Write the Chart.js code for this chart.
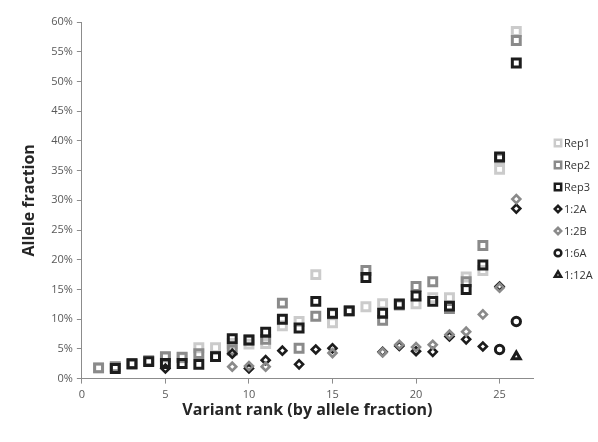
<!DOCTYPE html>
<html>
<head>
<meta charset="utf-8">
<script src="https://cdn.jsdelivr.net/npm/chart.js@4.4.0/dist/chart.umd.min.js"></script>
<style>
  html, body { margin: 0; padding: 0; background: #fff; }
</style>
</head>
<body>
<canvas id="chart" width="598" height="442"></canvas>
<script>
// Variant rank (x) and allele fraction in % (y), null = no point
const rank = [1, 2, 3, 4, 5, 6, 7, 8, 9, 10, 11, 12, 13, 14, 15, 16, 17, 18, 19, 20, 21, 22, 23, 24, 25, 26];
const rep1 = [1.8, 1.9, 2.4, 2.9, 3.6, 3.5, 5.2, 5.2, 5.9, 5.8, 5.9, 8.9, 9.6, 17.5, 9.4, 11.4, 12.1, 12.6, 12.3, 12.6, 13.6, 13.6, 17.1, 18.2, 35.2, 58.4];
const rep2 = [1.8, 2.0, 2.5, 3.0, 3.7, 3.6, 4.2, 3.7, 4.8, 6.5, 6.6, 12.7, 5.1, 10.5, 10.9, 11.4, 18.2, 9.8, 12.6, 15.5, 16.3, 11.8, 16.3, 22.4, 37.1, 56.9];
const rep3 = [null, 1.7, 2.5, 2.85, 2.55, 2.55, 2.4, 3.7, 6.7, 6.5, 7.8, 10.0, 8.5, 13.0, 11.0, 11.4, 17.0, 11.0, 12.5, 13.9, 13.0, 12.2, 15.0, 19.1, 37.3, 53.1];
const dil12A = [null, null, null, null, 1.7, null, null, null, 4.2, 1.7, 3.1, 4.7, 2.4, 4.9, 5.1, null, null, 4.5, 5.5, 4.6, 4.5, 7.1, 6.6, 5.4, 15.5, 28.6];
const dil12B = [null, null, null, null, null, null, null, null, 2.0, 2.1, 2.0, null, null, null, 4.3, null, null, 4.4, 5.7, 5.3, 5.7, 7.4, 7.9, 10.8, 15.3, 30.2];
const dil16A = [null, null, null, null, null, null, null, null, null, null, null, null, null, null, null, null, null, null, null, null, null, null, null, null, 4.9, 9.6];
const dil112A = [null, null, null, null, null, null, null, null, null, null, null, null, null, null, null, null, null, null, null, null, null, null, null, null, null, 3.7];

const xTicks = [0, 5, 10, 15, 20, 25];

function puntos(valores) {
  return rank.map((r, i) => ({ x: r, y: valores[i] })).filter(p => p.y !== null);
}

function serie(label, valores, color, estilo, radio, borde, orden) {
  return {
    label: label,
    data: puntos(valores),
    pointStyle: estilo,
    pointRadius: radio,
    pointHoverRadius: radio,
    pointBorderWidth: borde,
    borderWidth: borde,
    borderColor: color,
    backgroundColor: 'rgba(0,0,0,0)',
    pointBackgroundColor: 'rgba(0,0,0,0)',
    order: orden
  };
}

// order: Rep1 drawn first, 1:12A last (on top)
const datasets = [
  serie('Rep1', rep1, '#cbcbcb', 'rect', 5.6, 3, 7),
  serie('Rep2', rep2, '#8a8a8a', 'rect', 5.6, 3, 6),
  serie('Rep3', rep3, '#1c1c1c', 'rect', 5.6, 3, 5),
  serie('1:2A', dil12A, '#1c1c1c', 'rectRot', 4, 2.6, 4),
  serie('1:2B', dil12B, '#8a8a8a', 'rectRot', 4, 2.6, 3),
  serie('1:6A', dil16A, '#1c1c1c', 'circle', 4.2, 3, 2),
  serie('1:12A', dil112A, '#1c1c1c', 'triangle', 4.5, 3, 1)
];

const fuente = "'Open Sans', 'Liberation Sans', sans-serif";

// Leyenda a la derecha, como en Excel
const leyenda = {
  id: 'leyenda',
  afterDraw(chart) {
    const ctx = chart.ctx;
    const x = 558;
    const top = 143;
    const paso = 22;
    ctx.save();
    chart.data.datasets.forEach((ds, i) => {
      const y = top + i * paso;
      ctx.strokeStyle = ds.borderColor;
      ctx.fillStyle = 'rgba(0,0,0,0)';
      ctx.lineWidth = 2.5;
      Chart.helpers.drawPoint(ctx, {
        pointStyle: ds.pointStyle,
        radius: ds.pointRadius * 0.8,
        borderWidth: 2.5,
        rotation: 0
      }, x, y);
      ctx.fillStyle = '#333333';
      ctx.font = '11px ' + fuente;
      ctx.textAlign = 'left';
      ctx.textBaseline = 'middle';
      ctx.fillText(ds.label, x + 6, y + 1);
    });
    ctx.restore();
  }
};

new Chart(document.getElementById('chart').getContext('2d'), {
  type: 'scatter',
  data: { datasets: datasets },
  plugins: [leyenda],
  options: {
    responsive: false,
    animation: false,
    layout: { padding: { top: 22, right: 65, bottom: 22, left: 20 } },
    plugins: {
      tooltip: { enabled: false },
      legend: { display: false }
    },
    scales: {
      x: {
        type: 'linear',
        min: 0,
        max: 27,
        afterBuildTicks: scale => {
          scale.ticks = xTicks.map(v => ({ value: v }));
        },
        grid: { display: true, drawOnChartArea: false, tickLength: 5, color: '#8c8c8c' },
        border: { color: '#8c8c8c' },
        ticks: { color: '#595959', font: { family: fuente, size: 11 }, padding: 5 },
        title: {
          display: true,
          text: 'Variant rank (by allele fraction)',
          color: '#262626',
          font: { family: fuente, size: 16, weight: 'bold' },
          padding: { top: -6, bottom: 0 }
        }
      },
      y: {
        min: 0,
        max: 60,
        ticks: {
          stepSize: 5,
          color: '#595959',
          font: { family: fuente, size: 11 },
          padding: 4,
          callback: v => v + '%'
        },
        grid: { display: true, drawOnChartArea: false, tickLength: 5, color: '#8c8c8c' },
        border: { color: '#8c8c8c' },
        title: {
          display: true,
          text: 'Allele fraction',
          color: '#262626',
          font: { family: fuente, size: 16, weight: 'bold' },
          padding: { top: 0, bottom: 8 }
        }
      }
    }
  }
});
</script>
</body>
</html>
